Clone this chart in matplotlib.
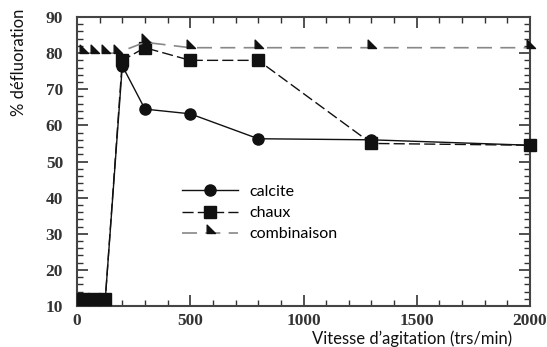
import matplotlib
matplotlib.use("Agg")
import matplotlib.pyplot as plt
from matplotlib.path import Path
from matplotlib.ticker import MultipleLocator

# Data
speed = [25, 75, 125, 200, 300, 500, 800, 1300, 2000]
calcite = [12, 12, 12, 76.5, 64.5, 63.2, 56.3, 56, 54.5]
chaux = [12, 12, 12, 78, 81.5, 78, 78, 55, 54.5]
combi_x = [25, 75, 125, 175, 300, 500, 800, 1300, 2000]
combinaison = [80, 80, 80, 80, 83, 81.5, 81.5, 81.5, 81.5]
labels = ["calcite", "chaux", "combinaison"]

tri = Path([(-0.4, 0), (-0.4, 1), (0.6, 0), (-0.4, 0)],
           [Path.MOVETO, Path.LINETO, Path.LINETO, Path.CLOSEPOLY])

fig = plt.figure(figsize=(5.47, 3.47), dpi=100)
ax = fig.add_axes([77/547, 1-306/347, 453/547, 289/347])

ax.plot(speed, calcite, color="#111111", lw=1.0, ls="-", marker="o",
        ms=8, mfc="#111111", mec="#111111", label=labels[0], zorder=3)
ax.plot(speed, chaux, color="#111111", lw=1.0, ls=(0, (8, 3)), marker="s",
        ms=9, mfc="#111111", mec="#111111", label=labels[1], zorder=3,
        clip_on=False)
ax.plot(combi_x, combinaison, color="#888888", lw=1.2, ls=(0, (9, 5)),
        marker=tri, ms=12, mfc="#111111", mec="#111111", label=labels[2],
        zorder=4, clip_on=False)

ax.set_xlim(0, 2000)
ax.set_ylim(10, 90)
ax.xaxis.set_major_locator(MultipleLocator(500))
ax.xaxis.set_minor_locator(MultipleLocator(100))
ax.yaxis.set_major_locator(MultipleLocator(10))
ax.yaxis.set_minor_locator(MultipleLocator(2))
ax.tick_params(which="both", direction="in", top=True, right=True, color="#333333")
ax.tick_params(which="major", length=8, width=1.2)
ax.tick_params(which="minor", length=4, width=1.0)
ax.tick_params(axis="y", which="both", pad=10)
ax.tick_params(axis="x", which="both", pad=5)
for lab in ax.get_xticklabels() + ax.get_yticklabels():
    lab.set_fontfamily("Liberation Serif")
    lab.set_fontweight("bold")
    lab.set_fontsize(12.5)
    lab.set_color("#333333")
for s in ax.spines.values():
    s.set_linewidth(1.5)
    s.set_color("#444444")

ax.set_ylabel("% défluoration", fontsize=12, family="Lato", color="#111111")
ax.yaxis.set_label_coords((19 - 77) / 453, (306 - 62) / 289)
ax.yaxis.label.set_va("center")
ax.yaxis.label.set_ha("center")
ax.set_xlabel("Vitesse d\u2019agitation (trs/min)", fontsize=12, family="Lato",
              color="#111111", loc="right")
ax.xaxis.set_label_coords((512 - 77) / 453, (306 - 339) / 289)
ax.xaxis.label.set_va("center")

leg = ax.legend(loc="upper left", bbox_to_anchor=(0.2, 0.47), frameon=False,
                prop={"family": "Lato", "size": 11.5}, handlelength=3.5,
                labelspacing=0.45, handletextpad=0.7)

fig.savefig("out.png", dpi=100)
